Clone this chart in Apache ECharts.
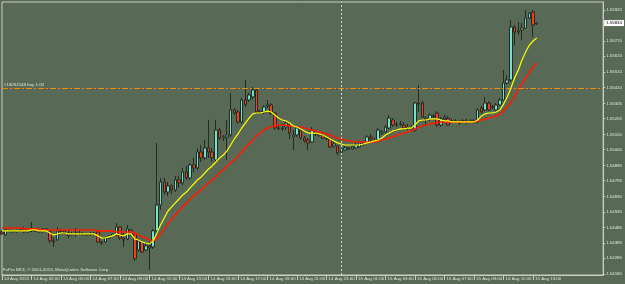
<!DOCTYPE html>
<html>
<head>
<meta charset="utf-8">
<title>GBPUSD M15</title>
<script src="https://cdn.jsdelivr.net/npm/echarts@6.0.0/dist/echarts.min.js"></script>
<style>
  html, body { margin: 0; padding: 0; background: #586a55; }
  #main { width: 625px; height: 284px; }
</style>
</head>
<body>
<div id="main"></div>
<script>
// M15 bars, 14 Aug 2013 01:00 -> 15 Aug 2013 13:15, rows are [open, close, low, high]
var candles = [
  [1.54457,1.54444,1.54437,1.54470],[1.54437,1.54470,1.54431,1.54477],[1.54464,1.54466,1.54450,1.54477],[1.54464,1.54457,1.54450,1.54470],
  [1.54457,1.54464,1.54450,1.54470],[1.54464,1.54470,1.54457,1.54477],[1.54470,1.54457,1.54450,1.54490],[1.54457,1.54464,1.54450,1.54470],
  [1.54464,1.54477,1.54457,1.54523],[1.54470,1.54464,1.54457,1.54477],[1.54464,1.54457,1.54450,1.54470],[1.54457,1.54477,1.54450,1.54483],
  [1.54477,1.54464,1.54457,1.54483],[1.54457,1.54398,1.54384,1.54464],[1.54398,1.54391,1.54358,1.54417],[1.54404,1.54464,1.54398,1.54490],
  [1.54464,1.54462,1.54450,1.54477],[1.54464,1.54450,1.54444,1.54470],[1.54450,1.54431,1.54417,1.54470],[1.54437,1.54444,1.54431,1.54457],
  [1.54444,1.54450,1.54424,1.54483],[1.54450,1.54444,1.54437,1.54464],[1.54444,1.54442,1.54431,1.54457],[1.54444,1.54437,1.54431,1.54450],
  [1.54437,1.54444,1.54431,1.54457],[1.54444,1.54450,1.54437,1.54457],[1.54457,1.54391,1.54384,1.54464],[1.54391,1.54384,1.54371,1.54398],
  [1.54391,1.54417,1.54384,1.54424],[1.54417,1.54431,1.54411,1.54437],[1.54431,1.54444,1.54424,1.54450],[1.54437,1.54490,1.54431,1.54516],
  [1.54490,1.54417,1.54404,1.54496],[1.54417,1.54404,1.54358,1.54450],[1.54411,1.54477,1.54404,1.54503],[1.54470,1.54444,1.54431,1.54477],
  [1.54444,1.54279,1.54266,1.54450],[1.54338,1.54398,1.54325,1.54411],[1.54391,1.54325,1.54318,1.54404],[1.54338,1.54365,1.54332,1.54384],
  [1.54365,1.54351,1.54206,1.54391],[1.54358,1.54464,1.54345,1.54477],[1.54464,1.54635,1.54450,1.55044],[1.54635,1.54786,1.54602,1.54813],
  [1.54786,1.54720,1.54701,1.54813],[1.54720,1.54760,1.54694,1.54786],[1.54760,1.54734,1.54707,1.54773],[1.54734,1.54800,1.54720,1.54826],
  [1.54800,1.54780,1.54747,1.54826],[1.54780,1.54852,1.54767,1.54879],[1.54852,1.54813,1.54800,1.54892],[1.54813,1.54899,1.54800,1.54912],
  [1.54899,1.54879,1.54852,1.54945],[1.54879,1.54984,1.54866,1.55011],[1.54984,1.54945,1.54918,1.55030],[1.54945,1.55011,1.54931,1.55063],
  [1.55011,1.54984,1.54945,1.55195],[1.54984,1.54945,1.54918,1.55011],[1.54931,1.55129,1.54918,1.55195],[1.55129,1.55076,1.55063,1.55142],
  [1.55076,1.55083,1.55057,1.55096],[1.55083,1.55096,1.54931,1.55195],[1.55096,1.55261,1.55083,1.55373],[1.55261,1.55241,1.55228,1.55274],
  [1.55248,1.55182,1.55169,1.55261],[1.55182,1.55327,1.55169,1.55340],[1.55327,1.55294,1.55281,1.55459],[1.55327,1.55360,1.55314,1.55373],
  [1.55347,1.55393,1.55333,1.55413],[1.55393,1.55248,1.55235,1.55406],[1.55248,1.55254,1.55235,1.55261],[1.55248,1.55281,1.55235,1.55294],
  [1.55287,1.55294,1.55274,1.55327],[1.55294,1.55241,1.55228,1.55307],[1.55241,1.55142,1.55129,1.55248],[1.55142,1.55140,1.55129,1.55156],
  [1.55142,1.55136,1.55123,1.55156],[1.55149,1.55175,1.55129,1.55189],[1.55162,1.55109,1.55070,1.55175],[1.55083,1.55096,1.54997,1.55129],
  [1.55096,1.55142,1.55083,1.55156],[1.55129,1.55076,1.55063,1.55142],[1.55076,1.55057,1.55044,1.55090],[1.55063,1.55044,1.54997,1.55076],
  [1.55050,1.55129,1.55044,1.55149],[1.55123,1.55103,1.55090,1.55129],[1.55103,1.55096,1.55083,1.55116],[1.55096,1.55076,1.55070,1.55109],
  [1.55076,1.55070,1.55063,1.55090],[1.55070,1.55017,1.55011,1.55083],[1.55024,1.55037,1.55011,1.55063],[1.55024,1.54978,1.54964,1.55030],
  [1.54984,1.54997,1.54978,1.55011],[1.54997,1.55011,1.54991,1.55024],[1.55011,1.55004,1.54997,1.55017],[1.55004,1.55017,1.54997,1.55030],
  [1.55011,1.55030,1.55004,1.55044],[1.55017,1.55044,1.55011,1.55057],[1.55044,1.55037,1.55024,1.55057],[1.55044,1.55083,1.55037,1.55096],
  [1.55083,1.55070,1.55057,1.55103],[1.55063,1.55057,1.55044,1.55076],[1.55063,1.55129,1.55050,1.55142],[1.55109,1.55116,1.55096,1.55129],
  [1.55116,1.55149,1.55109,1.55162],[1.55142,1.55208,1.55136,1.55228],[1.55195,1.55162,1.55149,1.55208],[1.55162,1.55164,1.55149,1.55182],
  [1.55169,1.55167,1.55156,1.55189],[1.55162,1.55142,1.55129,1.55182],[1.55142,1.55149,1.55129,1.55169],[1.55149,1.55142,1.55116,1.55162],
  [1.55129,1.55307,1.55116,1.55314],[1.55307,1.55300,1.55248,1.55426],[1.55307,1.55215,1.55208,1.55320],[1.55208,1.55195,1.55162,1.55221],
  [1.55202,1.55228,1.55189,1.55241],[1.55221,1.55215,1.55202,1.55235],[1.55241,1.55162,1.55149,1.55254],[1.55162,1.55202,1.55149,1.55215],
  [1.55202,1.55215,1.55189,1.55228],[1.55208,1.55162,1.55156,1.55221],[1.55182,1.55189,1.55175,1.55202],[1.55189,1.55187,1.55175,1.55202],
  [1.55182,1.55175,1.55162,1.55195],[1.55189,1.55191,1.55175,1.55202],[1.55189,1.55182,1.55169,1.55202],[1.55189,1.55187,1.55175,1.55202],
  [1.55182,1.55189,1.55169,1.55202],[1.55182,1.55261,1.55175,1.55274],[1.55274,1.55248,1.55235,1.55287],[1.55261,1.55307,1.55254,1.55347],
  [1.55307,1.55261,1.55254,1.55320],[1.55281,1.55279,1.55268,1.55294],[1.55261,1.55294,1.55254,1.55307],[1.55294,1.55327,1.55287,1.55340],
  [1.55327,1.55439,1.55320,1.55525],[1.55439,1.55459,1.55426,1.55492],[1.55459,1.55808,1.55445,1.55854],[1.55808,1.55775,1.55689,1.55821],
  [1.55782,1.55775,1.55755,1.55841],[1.55788,1.55801,1.55722,1.55834],[1.55801,1.55867,1.55795,1.55920],[1.55867,1.55900,1.55861,1.55907],
  [1.55907,1.55821,1.55742,1.55920],[1.55828,1.55834,1.55821,1.55841]
];

// yellow (fast) moving average
var maFast = [
  1.54464,1.54464,1.54464,1.54464,1.54464,1.54464,1.54464,1.54464,1.54470,1.54470,
  1.54464,1.54464,1.54464,1.54450,1.54437,1.54444,1.54450,1.54450,1.54444,1.54444,
  1.54444,1.54444,1.54444,1.54444,1.54444,1.54444,1.54431,1.54417,1.54417,1.54424,
  1.54431,1.54444,1.54437,1.54431,1.54444,1.54444,1.54411,1.54404,1.54391,1.54384,
  1.54378,1.54398,1.54450,1.54503,1.54549,1.54595,1.54622,1.54648,1.54674,1.54701,
  1.54720,1.54747,1.54773,1.54800,1.54819,1.54846,1.54872,1.54892,1.54918,1.54945,
  1.54964,1.54991,1.55030,1.55070,1.55103,1.55142,1.55175,1.55208,1.55235,1.55241,
  1.55241,1.55248,1.55254,1.55248,1.55228,1.55208,1.55195,1.55189,1.55175,1.55156,
  1.55149,1.55136,1.55123,1.55109,1.55109,1.55109,1.55103,1.55096,1.55083,1.55070,
  1.55057,1.55044,1.55037,1.55030,1.55030,1.55030,1.55030,1.55030,1.55037,1.55044,
  1.55050,1.55057,1.55063,1.55076,1.55096,1.55109,1.55123,1.55129,1.55136,1.55136,
  1.55142,1.55142,1.55162,1.55189,1.55195,1.55195,1.55202,1.55202,1.55202,1.55195,
  1.55189,1.55189,1.55182,1.55182,1.55182,1.55182,1.55182,1.55182,1.55182,1.55195,
  1.55221,1.55235,1.55241,1.55241,1.55248,1.55261,1.55300,1.55347,1.55406,1.55472,
  1.55525,1.55591,1.55643,1.55689,1.55716,1.55735
];

// red (slow) moving average
var maSlow = [
  1.54483,1.54483,1.54483,1.54483,1.54483,1.54483,1.54477,1.54477,1.54477,1.54477,
  1.54477,1.54470,1.54470,1.54470,1.54470,1.54470,1.54470,1.54470,1.54470,1.54470,
  1.54470,1.54470,1.54470,1.54470,1.54470,1.54470,1.54464,1.54464,1.54464,1.54464,
  1.54464,1.54457,1.54457,1.54457,1.54457,1.54457,1.54450,1.54437,1.54424,1.54417,
  1.54404,1.54398,1.54417,1.54444,1.54477,1.54510,1.54543,1.54569,1.54595,1.54622,
  1.54648,1.54674,1.54694,1.54714,1.54734,1.54760,1.54780,1.54800,1.54819,1.54846,
  1.54866,1.54892,1.54912,1.54931,1.54958,1.54984,1.55011,1.55037,1.55063,1.55090,
  1.55109,1.55129,1.55142,1.55149,1.55156,1.55162,1.55162,1.55162,1.55156,1.55156,
  1.55149,1.55149,1.55142,1.55136,1.55129,1.55123,1.55116,1.55109,1.55103,1.55096,
  1.55083,1.55076,1.55070,1.55063,1.55057,1.55057,1.55050,1.55050,1.55050,1.55050,
  1.55050,1.55050,1.55057,1.55063,1.55070,1.55076,1.55083,1.55096,1.55103,1.55109,
  1.55116,1.55123,1.55136,1.55149,1.55156,1.55162,1.55169,1.55175,1.55175,1.55182,
  1.55182,1.55182,1.55182,1.55182,1.55182,1.55182,1.55182,1.55182,1.55182,1.55189,
  1.55195,1.55202,1.55208,1.55215,1.55221,1.55235,1.55254,1.55281,1.55314,1.55353,
  1.55393,1.55432,1.55472,1.55511,1.55544,1.55571
];

// price scale labels on the right
var yTicks = [1.54180, 1.54285, 1.54385, 1.54485, 1.54590, 1.54690, 1.54795, 1.54895, 1.55000,
              1.55100, 1.55205, 1.55305, 1.55410, 1.55510, 1.55615, 1.55715, 1.55920];

var orderPrice = 1.55406;
var orderText = '#18262148 buy 1.00';
var dayBreak = 92;   // index of 15 Aug 00:00
var copyright = 'FxPro MT4, \u00a9 2001-2013, MetaQuotes Software Corp.';

var bg = '#586a55';
var frameColor = '#c9cdc2';
var labelColor = '#e2e4de';
var fontSize = 4.4;

// time slots: the bars plus empty space on the right (chart shift)
var slots = 164;
var monthNames = ['Jan','Feb','Mar','Apr','May','Jun','Jul','Aug','Sep','Oct','Nov','Dec'];
var categories = [];
var t0 = Date.UTC(2013, 7, 14, 1, 0);
for (var i = 0; i < slots; i++) {
  var d = new Date(t0 + i * 15 * 60000);
  var hh = ('0' + d.getUTCHours()).slice(-2);
  var mm = ('0' + d.getUTCMinutes()).slice(-2);
  categories.push(d.getUTCDate() + ' ' + monthNames[d.getUTCMonth()] + ' ' + hh + ':' + mm);
}

function showLabel(index) {
  return index % 8 === 0 && index < candles.length;
}

var lastClose = candles[candles.length - 1][1];

var myChart = echarts.init(document.getElementById('main'));

var option = {
  backgroundColor: bg,
  animation: false,
  textStyle: { fontFamily: 'Liberation Sans' },
  title: {
    text: copyright,
    left: 3,
    top: 268,
    padding: 0,
    textStyle: { fontSize: fontSize, color: labelColor, fontWeight: 'normal', fontFamily: 'Liberation Sans' }
  },
  grid: {
    left: 2, right: 20, top: 2, bottom: 9,
    show: true,
    borderColor: frameColor,
    borderWidth: 1
  },
  xAxis: {
    type: 'category',
    data: categories,
    boundaryGap: false,
    axisLine: { show: true, lineStyle: { color: frameColor } },
    axisTick: {
      show: true,
      interval: showLabel,
      length: 5,
      lineStyle: { color: frameColor }
    },
    axisLabel: {
      interval: showLabel,
      align: 'left',
      margin: 2,
      padding: [0, 0, 0, 2],
      fontSize: fontSize,
      color: labelColor,
      formatter: function (value, index) {
        return index === 0 ? '14 Aug 2013' : value;
      }
    },
    splitLine: { show: false }
  },
  yAxis: {
    type: 'value',
    position: 'right',
    min: 1.54173,
    max: 1.55973,
    splitLine: { show: false },
    axisLine: { show: true, lineStyle: { color: frameColor } },
    axisTick: { show: true, customValues: yTicks, length: 2, lineStyle: { color: frameColor } },
    axisLabel: {
      customValues: yTicks,
      margin: 3,
      fontSize: fontSize,
      color: labelColor,
      formatter: function (v) { return v.toFixed(5); }
    }
  },
  series: [
    {
      name: 'price',
      type: 'candlestick',
      data: candles,
      barWidth: 3,
      z: 2,
      itemStyle: {
        color: '#6fe3cc',
        color0: '#f2401a',
        borderColor: '#252b23',
        borderColor0: '#252b23',
        borderWidth: 1
      }
    },
    {
      name: 'MA slow',
      type: 'line',
      data: maSlow,
      symbol: 'none',
      clip: false,
      z: 4,
      lineStyle: { color: '#ff1a00', width: 1.6 },
      markLine: {
        silent: true,
        symbol: 'none',
        precision: 5,
        animation: false,
        data: [
          {
            xAxis: dayBreak,
            lineStyle: { color: '#d6d8d0', type: [2, 2], width: 1 },
            label: { show: false }
          },
          {
            yAxis: orderPrice,
            lineStyle: { color: '#f08a10', type: [6, 2, 2, 2], width: 1 },
            label: {
              show: true,
              position: 'insideStartTop',
              distance: [2, 1],
              formatter: orderText,
              fontSize: fontSize,
              color: labelColor
            }
          },
          {
            yAxis: lastClose,
            lineStyle: { color: 'rgba(0,0,0,0)', width: 0 },
            label: {
              show: true,
              position: 'end',
              distance: 1,
              opacity: 1,
              formatter: lastClose.toFixed(5),
              backgroundColor: '#ffffff',
              color: '#000000',
              padding: [1, 2],
              fontSize: fontSize
            }
          }
        ]
      }
    },
    {
      name: 'MA fast',
      type: 'line',
      data: maFast,
      symbol: 'none',
      z: 5,
      lineStyle: { color: '#ffff00', width: 1.2 }
    }
  ]
};

myChart.setOption(option);
</script>
</body>
</html>
